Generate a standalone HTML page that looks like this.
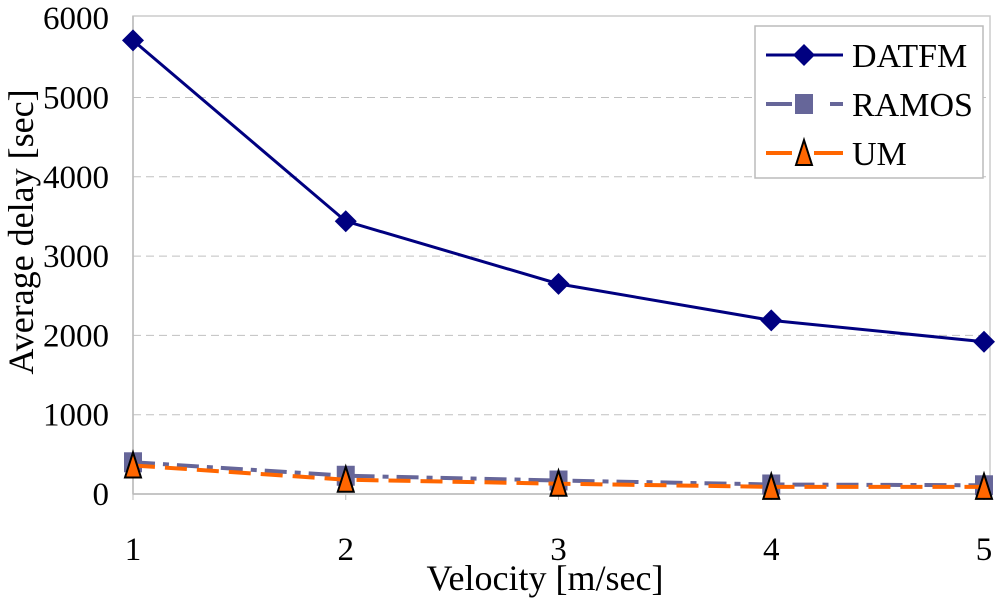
<!DOCTYPE html>
<html><head><meta charset="utf-8"><style>
body{margin:0;background:#fff}
svg text{font-family:"Liberation Serif",serif;fill:#000}
</style></head><body>
<svg id="chart" width="1000" height="598"></svg>
<script>
const categories=[1,2,3,4,5];
const datfm=[5720,3440,2650,2190,1920];
const ramos=[400,230,170,120,110];
const um=[360,180,130,90,90];
const yTicks=[0,1000,2000,3000,4000,5000,6000];
const svg=document.getElementById('chart');
const NS='http://www.w3.org/2000/svg';
const x0=133,x1=984,yBase=494,yPer=79.3/1000;
const xs=v=>x0+(v-1)*(x1-x0)/4;
const ys=v=>yBase-v*yPer;
function mk(t,a,p){const e=document.createElementNS(NS,t);for(const k in a)e.setAttribute(k,a[k]);(p||svg).appendChild(e);return e;}
const frame=mk('rect',{x:x0,y:16,width:990-x0,height:yBase-16,fill:'none',stroke:'#ccc','stroke-width':1.5});


yTicks.forEach(t=>{
  if(t>0&&t<6000){const g=mk('line',{x1:x0,x2:990,y1:ys(t),y2:ys(t),stroke:'#c0c0c0','stroke-dasharray':'8,5'});
  
  }
  const l=mk('text',{x:109,y:ys(t)+11,'font-size':33,'text-anchor':'end'});l.textContent=t;
  
  
});
const ax=mk('line',{x1:x0,x2:x0,y1:16,y2:yBase,stroke:'#bbb','stroke-width':1.5});


categories.forEach(c=>{
  const l=mk('text',{x:xs(c),y:560,'font-size':33,'text-anchor':'middle'});l.textContent=c;
  
  
  const tk=mk('line',{x1:xs(c),x2:xs(c),y1:yBase,y2:yBase+6,stroke:'#bbb'});
  
  
});
const xa=mk('line',{x1:x0,x2:990,y1:yBase,y2:yBase,stroke:'#bbb','stroke-width':1.5});


const xt=mk('text',{x:545,y:590,'font-size':36,'text-anchor':'middle'});xt.textContent='Velocity [m/sec]';


const yt=mk('text',{x:0,y:0,'font-size':36,'text-anchor':'middle',transform:'translate(33,232) rotate(-90)'});yt.textContent='Average delay [sec]';


function marker(kind,cx,cy,g){
  if(kind==='d')return mk('polygon',{points:`${cx},${cy-11} ${cx+11},${cy} ${cx},${cy+11} ${cx-11},${cy}`,fill:'#000080'},g);
  if(kind==='s')return mk('rect',{x:cx-9,y:cy-10,width:18,height:20,fill:'#666699'},g);
  return mk('polygon',{points:`${cx},${cy-13} ${cx+8},${cy+12} ${cx-8},${cy+12}`,fill:'#ff6600',stroke:'#000','stroke-width':2},g);
}
const series=[
 {name:'DATFM',vals:datfm,color:'#000080',dash:'',k:'d',w:3},
 {name:'RAMOS',vals:ramos,color:'#666699',dash:'22,8,6,8',k:'s',w:4},
 {name:'UM',vals:um,color:'#ff6600',dash:'22,10',k:'t',w:4}];
series.forEach(s=>{
  const g=mk('g',{});
  
  
  mk('polyline',{points:categories.map((c,i)=>xs(c)+','+ys(s.vals[i])).join(' '),fill:'none',stroke:s.color,'stroke-width':s.w,'stroke-dasharray':s.dash},g);
  categories.forEach((c,i)=>{const m=marker(s.k,xs(c),ys(s.vals[i]),g);
    
    });
});
const lg=mk('g',{});


mk('rect',{x:755,y:26,width:228,height:152,fill:'#fff',stroke:'#bbb','stroke-width':1.5},lg);
series.forEach((s,i)=>{
  const y=55+i*49;
  const e=mk('g',{},lg);
  
  
  mk('line',{x1:766,x2:843,y1:y,y2:y,stroke:s.color,'stroke-width':s.w,'stroke-dasharray':s.k==='s'?'26,8,0,30,14':(s.k==='t'?'26,22,40':'')},e);
  marker(s.k,804,y,e);
  const t=mk('text',{x:852,y:y+12,'font-size':34},e);t.textContent=s.name;
});
</script>
</body></html>
